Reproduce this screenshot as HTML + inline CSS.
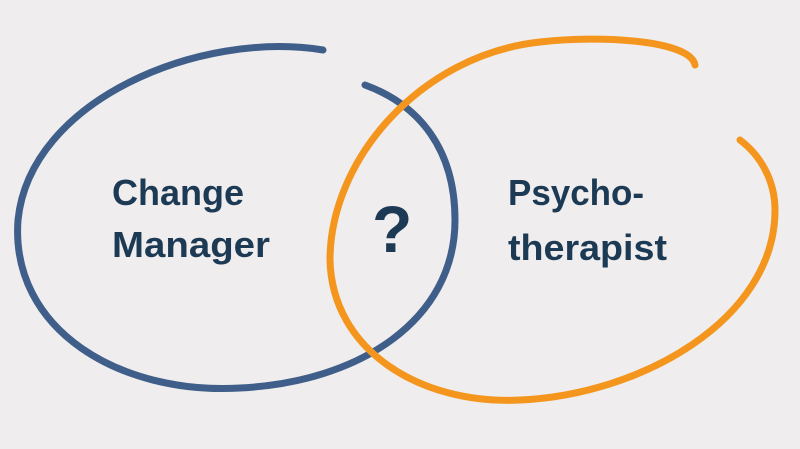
<!DOCTYPE html>
<html><head><meta charset="utf-8"><style>
html,body{margin:0;padding:0;background:#efedee;}
svg{display:block}
text{font-family:"Liberation Sans",sans-serif;font-weight:bold;fill:#1d3a55}
</style></head><body>
<svg width="800" height="449" viewBox="0 0 800 449" xmlns="http://www.w3.org/2000/svg">
<rect width="800" height="449" fill="#efedee"/>
<path d="M323,50 C200,30 30,100 18,220 C10,330 120,395 240,388 C360,382 455,320 455,220 C455,150 420,105 365,85" fill="none" stroke="#3f5f8a" stroke-width="7" stroke-linecap="round"/>
<path d="M695,65 C690,40 600,35 540,42 C420,55 330,160 330,260 C332,350 420,405 520,400 C640,395 775,320 775,210 C775,180 760,155 740,140" fill="none" stroke="#f4961e" stroke-width="7" stroke-linecap="round"/>
<text x="112" y="205" font-size="36">Change</text>
<text x="112" y="257" font-size="36" textLength="158" lengthAdjust="spacingAndGlyphs">Manager</text>
<text x="508" y="205" font-size="36" textLength="136" lengthAdjust="spacingAndGlyphs">Psycho-</text>
<text x="508" y="260" font-size="36" textLength="159" lengthAdjust="spacingAndGlyphs">therapist</text>
<text x="372" y="252" font-size="66">?</text>
</svg>
</body></html>
